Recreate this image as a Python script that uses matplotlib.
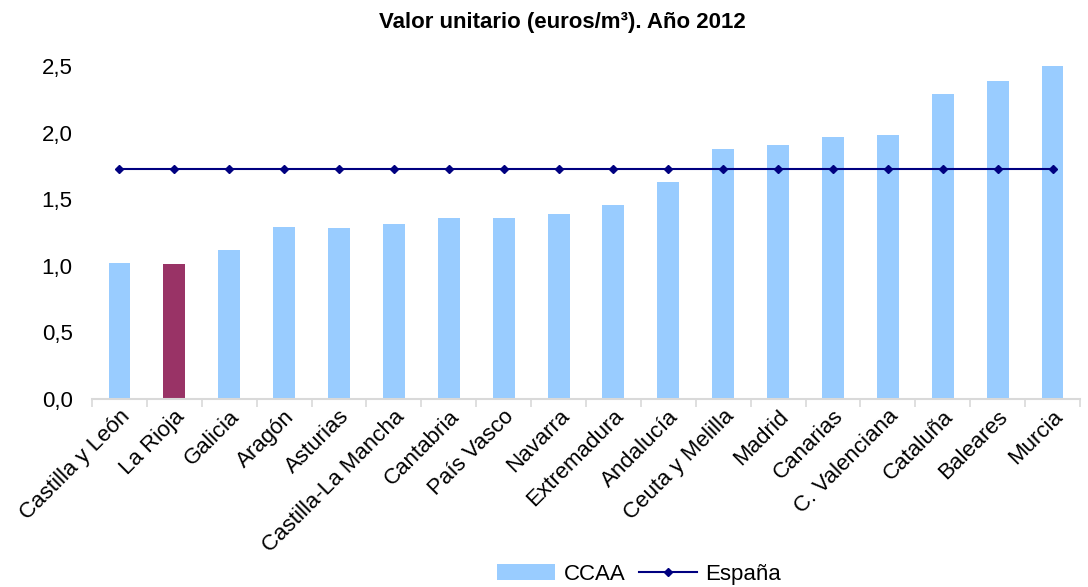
import numpy as np
import matplotlib.pyplot as plt
from matplotlib.ticker import FuncFormatter

plt.rcParams['font.family'] = ['Liberation Sans', 'DejaVu Sans']

# Valor unitario (euros/m3) por comunidad autonoma, 2012
regiones = ["Castilla y León", "La Rioja", "Galicia", "Aragón", "Asturias",
            "Castilla-La Mancha", "Cantabria", "País Vasco", "Navarra",
            "Extremadura", "Andalucía", "Ceuta y Melilla", "Madrid", "Canarias",
            "C. Valenciana", "Cataluña", "Baleares", "Murcia"]
valor_ccaa = [1.02, 1.01, 1.12, 1.29, 1.28, 1.31, 1.36, 1.36, 1.39,
              1.46, 1.63, 1.88, 1.91, 1.97, 1.98, 2.29, 2.39, 2.50]
valor_espana = [1.73] * len(regiones)
destacada = "La Rioja"

fig = plt.figure(figsize=(10.88, 5.87), dpi=100)
ax = fig.add_axes([0.0846, 0.3203, 0.908, 0.5673])

x = np.arange(len(regiones))
colores = ["#993366" if r == destacada else "#99CCFF" for r in regiones]
barras = ax.bar(x, valor_ccaa, width=0.4, color=colores, label="CCAA", zorder=2)
linea, = ax.plot(x, valor_espana, color="#000080", lw=1.5, marker="D", ms=4,
                 label="España", zorder=3)

ax.set_xlim(-0.5, len(regiones) - 0.5)
ax.set_ylim(0, 2.5)
ax.set_yticks(np.arange(0, 2.51, 0.5))
ax.yaxis.set_major_formatter(FuncFormatter(lambda v, p: f"{v:.1f}".replace(".", ",")))
ax.tick_params(axis="y", length=0, labelsize=16, pad=14)

ax.set_xticks(x)
ax.set_xticklabels(regiones, rotation=45, ha="right", rotation_mode="anchor",
                   fontsize=16)
ax.set_xticks(np.arange(-0.5, len(regiones)), minor=True)
ax.tick_params(axis="x", which="major", length=0, pad=5)
ax.tick_params(axis="x", which="minor", length=6, color="#D9D9D9", width=1.2)

for s in ["top", "right", "left"]:
    ax.spines[s].set_visible(False)
ax.spines["bottom"].set_color("#D9D9D9")
ax.spines["bottom"].set_linewidth(1.5)

fig.text(0.5165, 0.962, "Valor unitario (euros/m³). Año 2012", fontsize=16,
         fontweight="bold", ha="center", va="center")

fig.legend([barras, linea], ["CCAA", "España"], loc="center",
           bbox_to_anchor=(0.5875, 0.022), ncol=2, frameon=False, fontsize=16,
           handlelength=2.6, columnspacing=0.6, handletextpad=0.4)

fig.savefig("out.png", dpi=100)
